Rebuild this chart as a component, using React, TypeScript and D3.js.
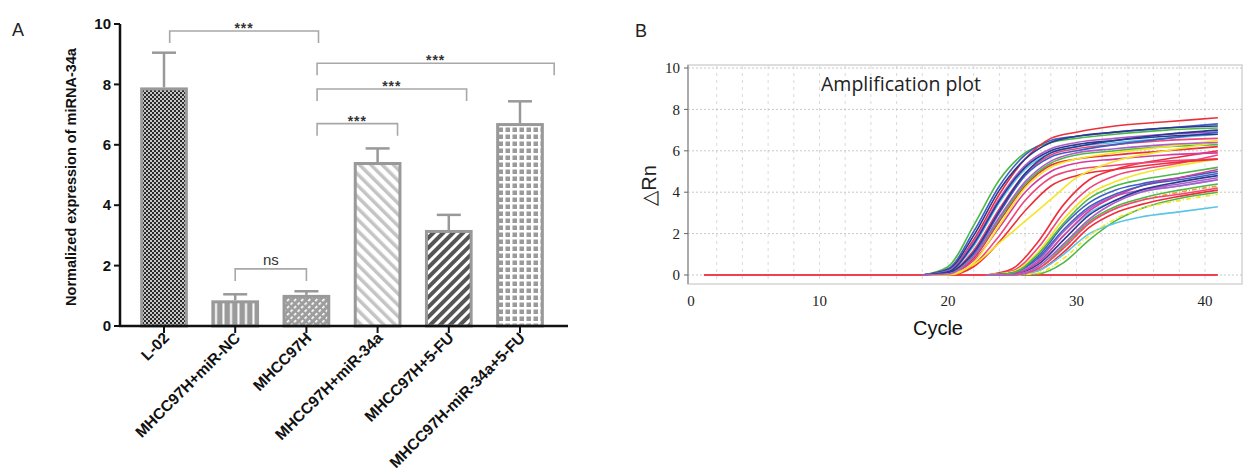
import * as d3 from "d3";

// ---- panel A data ----
const categories = [
  "L-02",
  "MHCC97H+miR-NC",
  "MHCC97H",
  "MHCC97H+miR-34a",
  "MHCC97H+5-FU",
  "MHCC97H-miR-34a+5-FU",
];
const means = [7.9, 0.85, 1.03, 5.43, 3.18, 6.72];
const errUp = [1.15, 0.2, 0.12, 0.45, 0.5, 0.72];
const yTicksA = [0, 2, 4, 6, 8, 10];
const patterns = ["checker", "vstripe", "hatch", "lightdiag", "darkdiag", "grid"];

// brackets: from/to category, height, label, shift of the ends (in steps)
const brackets = [
  { from: 0, to: 2, level: 9.77, label: "***", s0: 0.08, s1: 0.17 },
  { from: 2, to: 5, level: 8.7, label: "***", s0: 0.15, s1: 0.48 },
  { from: 2, to: 4, level: 7.85, label: "***", s0: 0.15, s1: 0.25 },
  { from: 2, to: 3, level: 6.7, label: "***", s0: 0.15, s1: 0.28 },
  { from: 1, to: 2, level: 1.89, label: "ns", s0: 0, s1: 0 },
];

// ---- panel B data ----
const xTicksB = [0, 10, 20, 30, 40];
const yTicksB = [0, 2, 4, 6, 8, 10];
const baseline = [[1, 0], [41, 0]];

const g1Cycles = [18, 20, 22, 24, 26, 28, 30, 33, 37, 41];
const g1Values = [
  [0, 0.4, 2.4, 4.6, 5.9, 6.4, 6.6, 6.8, 7.0, 7.1],
  [0, 0.3, 2.1, 4.3, 5.8, 6.5, 6.7, 6.9, 7.1, 7.3],
  [0, 0.2, 1.7, 3.9, 5.6, 6.6, 6.9, 7.2, 7.4, 7.6],
  [0, 0.25, 1.9, 4.1, 5.6, 6.4, 6.7, 6.9, 7.1, 7.2],
  [0, 0.2, 1.6, 3.7, 5.3, 6.1, 6.4, 6.6, 6.8, 6.9],
  [0, 0.15, 1.4, 3.5, 5.1, 5.9, 6.2, 6.4, 6.6, 6.8],
  [0, 0.1, 1.2, 3.2, 4.9, 5.8, 6.1, 6.3, 6.5, 6.6],
  [0, 0.1, 1.0, 3.0, 4.8, 5.7, 6.0, 6.3, 6.6, 6.9],
  [0, 0.05, 0.8, 2.6, 4.3, 5.3, 5.6, 5.8, 6.0, 6.2],
  [0, 0.05, 0.7, 2.3, 4.0, 5.0, 5.4, 5.6, 5.8, 5.9],
  [0, 0.1, 0.9, 2.7, 4.4, 5.4, 5.8, 6.0, 6.2, 6.3],
  [0, 0, 0.5, 1.9, 3.6, 4.7, 5.1, 5.3, 5.5, 5.6],
  [0, 0, 0.4, 1.6, 3.1, 4.3, 4.8, 5.1, 5.4, 5.6],
  [0, 0.1, 1.1, 3.1, 4.9, 5.9, 6.2, 6.5, 6.8, 7.0],
  [0, 0.05, 0.5, 1.55, 2.6, 3.65, 4.7, 5.5, 6.0, 6.4],
  [0, 0, 0.6, 2.4, 4.2, 5.2, 5.6, 5.9, 6.2, 6.5],
  [0, 0.15, 1.5, 3.6, 5.2, 6.0, 6.3, 6.5, 6.7, 6.8],
  [0, 0.05, 0.9, 2.8, 4.5, 5.5, 5.9, 6.1, 6.3, 6.4],
];
const g1Colors = [
  "#4db848", "#3f5fc0", "#ee2f3b", "#2b3990", "#b05cc8", "#5bc5e6",
  "#f0457a", "#3f5fc0", "#ee2f3b", "#d63c9e", "#4db848", "#f0457a",
  "#ee2f3b", "#2b3990", "#f4e526", "#f4e526", "#2b3990", "#b05cc8",
];

const g2Cycles = [23, 25, 27, 29, 31, 33, 35, 38, 41];
const g2Values = [
  [0, 0.3, 1.6, 3.4, 4.6, 5.1, 5.4, 5.7, 6.0],
  [0, 0.2, 1.3, 3.0, 4.2, 4.8, 5.1, 5.4, 5.8],
  [0, 0.15, 1.1, 2.7, 3.9, 4.5, 4.9, 5.3, 5.6],
  [0, 0.1, 0.9, 2.4, 3.5, 4.1, 4.4, 4.7, 5.0],
  [0, 0.05, 0.7, 2.1, 3.2, 3.8, 4.1, 4.4, 4.7],
  [0, 0.05, 0.6, 1.9, 3.0, 3.6, 4.0, 4.3, 4.6],
  [0, 0, 0.3, 1.4, 2.6, 3.3, 3.7, 4.1, 4.4],
  [0, 0.05, 0.5, 1.7, 2.9, 3.6, 4.1, 4.5, 4.8],
  [0, 0, 0.3, 1.3, 2.5, 3.2, 3.6, 4.0, 4.3],
  [0, 0, 0.2, 1.1, 2.3, 3.0, 3.4, 3.8, 4.1],
  [0, 0, 0.05, 0.6, 1.7, 2.6, 3.2, 3.7, 4.0],
  [0, 0, 0.2, 1.0, 2.0, 2.5, 2.8, 3.05, 3.3],
  [0, 0, 0.1, 0.8, 1.9, 2.7, 3.2, 3.6, 3.9],
  [0, 0.05, 0.6, 1.9, 3.1, 3.8, 4.3, 4.7, 5.1],
  [0, 0.1, 0.8, 2.2, 3.3, 3.9, 4.3, 4.6, 4.9],
  [0, 0, 0.3, 1.3, 2.5, 3.2, 3.6, 3.9, 4.2],
  [0, 0.1, 1.0, 2.5, 3.7, 4.3, 4.6, 4.9, 5.2],
  [0, 0, 0.4, 1.5, 2.7, 3.5, 4.0, 4.3, 4.6],
];
const g2Colors = [
  "#ee2f3b", "#f0457a", "#f4e526", "#3f5fc0", "#b05cc8", "#5bc5e6",
  "#4db848", "#2b3990", "#f39a2b", "#ee2f3b", "#4db848", "#5bc5e6",
  "#f4e526", "#d63c9e", "#3f5fc0", "#f0457a", "#4db848", "#b05cc8",
];
const g2Dashed = [8, 12];

export default function App() {
  const W = 1244, H = 470;

  // panel A scales
  const xA = d3.scaleBand().domain(categories).range([128.4, 555.6]).paddingInner(0.33).paddingOuter(0.165);
  const yA = d3.scaleLinear().domain([0, 10]).range([326, 24]);
  const step = xA.step();
  const cx = (i: number) => (xA(categories[i]) as number) + xA.bandwidth() / 2;

  // panel B scales
  const xB = d3.scaleLinear().domain([0, 40]).range([691, 1205]);
  const yB = d3.scaleLinear().domain([0, 10]).range([275, 68]);
  const line = d3.line<number[]>().x(d => xB(d[0])).y(d => yB(d[1])).curve(d3.curveMonotoneX);
  const gridX = d3.range(2, 41, 2);
  const gridY = d3.range(0, 11, 2);

  const bold = "'Liberation Sans', Arial, sans-serif";
  const serif = "'Liberation Serif', 'Times New Roman', serif";

  return (
    <svg width={W} height={H} style={{ position: "absolute", left: 0, top: 0, background: "#fff" }}>
      <defs>
        <pattern id="checker" width="4" height="4" patternUnits="userSpaceOnUse">
          <rect width="4" height="4" fill="#c8c8c8" />
          <rect width="2" height="2" fill="#2a2a2a" />
          <rect x="2" y="2" width="2" height="2" fill="#2a2a2a" />
        </pattern>
        <pattern id="vstripe" width="7.5" height="8" patternUnits="userSpaceOnUse">
          <rect width="7.5" height="8" fill="#9a9a9a" />
          <rect x="5" width="2" height="8" fill="#fff" />
        </pattern>
        <pattern id="hatch" width="5" height="5" patternUnits="userSpaceOnUse" patternTransform="rotate(-45)">
          <rect width="5" height="5" fill="#9d9d9d" />
          <rect y="0" width="3" height="1.6" fill="#fff" />
        </pattern>
        <pattern id="lightdiag" width="8" height="8" patternUnits="userSpaceOnUse" patternTransform="rotate(-45)">
          <rect width="8" height="8" fill="#fff" />
          <rect width="3.5" height="8" fill="#c4c4c4" />
        </pattern>
        <pattern id="darkdiag" width="7" height="7" patternUnits="userSpaceOnUse" patternTransform="rotate(45)">
          <rect width="7" height="7" fill="#fff" />
          <rect width="4" height="7" fill="#555" />
        </pattern>
        <pattern id="grid" width="7" height="7" patternUnits="userSpaceOnUse">
          <rect width="7" height="7" fill="#fff" />
          <rect x="1.5" y="1.5" width="4.5" height="4.5" fill="#9a9a9a" />
        </pattern>
      </defs>

      {/* ===== Panel A ===== */}
      <text x={12} y={36} fontFamily={bold} fontSize={18} fill="#222">A</text>

      {/* bars */}
      {means.map((m, i) => (
        <g key={i}>
          <line x1={cx(i)} x2={cx(i)} y1={yA(m)} y2={yA(m + errUp[i])} stroke="#999" strokeWidth={2.5} />
          <line x1={cx(i) - 12} x2={cx(i) + 12} y1={yA(m + errUp[i])} y2={yA(m + errUp[i])} stroke="#999" strokeWidth={2.5} />
          <rect
            x={(xA(categories[i]) as number) + 1.5}
            y={yA(m) + 1.5}
            width={xA.bandwidth() - 3}
            height={yA(0) - yA(m) - 1.5}
            fill={`url(#${patterns[i]})`}
            stroke="#999"
            strokeWidth={3}
          />
        </g>
      ))}

      {/* significance brackets */}
      {brackets.map((b, i) => {
        const x0 = cx(b.from) + b.s0 * step;
        const x1 = cx(b.to) + b.s1 * step;
        const y = yA(b.level);
        const ns = b.label === "ns";
        return (
          <g key={i}>
            <path d={`M${x0},${y + 12}V${y}H${x1}V${y + 12}`} fill="none" stroke="#a8a8a8" strokeWidth={1.6} />
            <text
              x={(x0 + x1) / 2}
              y={ns ? y - 4 : y + 2}
              textAnchor="middle"
              fontFamily={bold}
              fontSize={ns ? 15 : 14}
              fontWeight={ns ? "normal" : "bold"}
              letterSpacing={ns ? 0 : 1}
              fill="#333"
            >
              {b.label}
            </text>
          </g>
        );
      })}

      {/* y axis */}
      <line x1={120} x2={120} y1={yA(10)} y2={yA(0) + 1} stroke="#111" strokeWidth={2.5} />
      {yTicksA.map(t => (
        <g key={t}>
          <line x1={114} x2={120} y1={yA(t)} y2={yA(t)} stroke="#111" strokeWidth={2} />
          <text x={111} y={yA(t)} dy="0.35em" textAnchor="end" fontFamily={bold} fontWeight="bold" fontSize={15} fill="#111">{t}</text>
        </g>
      ))}
      <text
        transform={`translate(76,${(yA(0) + yA(10)) / 2 + 2}) rotate(-90)`}
        textAnchor="middle"
        fontFamily={bold}
        fontWeight="bold"
        fontSize={14.5}
        fill="#111"
      >
        Normalized expression of miRNA-34a
      </text>

      {/* x axis */}
      <line x1={119} x2={568} y1={yA(0)} y2={yA(0)} stroke="#111" strokeWidth={2.5} />
      {categories.map((c, i) => (
        <g key={c}>
          <line x1={cx(i)} x2={cx(i)} y1={yA(0)} y2={yA(0) + 7} stroke="#111" strokeWidth={2} />
          <text
            transform={`translate(${cx(i) + 6},${yA(0) + 13}) rotate(-45)`}
            textAnchor="end"
            fontFamily={bold}
            fontWeight="bold"
            fontSize={15.5}
            fill="#111"
          >
            {c}
          </text>
        </g>
      ))}

      {/* ===== Panel B ===== */}
      <text x={635} y={37} fontFamily={bold} fontSize={18} fill="#222">B</text>

      <rect x={688} y={65} width={554} height={219} fill="none" stroke="#d4d4d4" strokeWidth={1.5} />
      {gridX.map(c => (
        <line key={c} x1={xB(c)} x2={xB(c)} y1={66} y2={283} stroke="#dadada" strokeWidth={1} strokeDasharray="3,4" />
      ))}
      {gridY.map(v => (
        <line key={v} x1={688} x2={1242} y1={yB(v)} y2={yB(v)} stroke="#c8c8c8" strokeWidth={1} strokeDasharray="2,2" />
      ))}
      <line x1={688} x2={688} y1={65} y2={284} stroke="#9a9a9a" strokeWidth={1.5} />

      {yTicksB.map(t => (
        <g key={t}>
          <line x1={684} x2={688} y1={yB(t)} y2={yB(t)} stroke="#666" strokeWidth={1} />
          <text x={680} y={yB(t)} dy="0.35em" textAnchor="end" fontFamily={serif} fontSize={15} fill="#222">{t}</text>
        </g>
      ))}
      {xTicksB.map(t => (
        <text key={t} x={xB(t)} y={306} textAnchor="middle" fontFamily={serif} fontSize={15} fill="#222">{t}</text>
      ))}

      <text x={xB(20) - 10} y={335} textAnchor="middle" fontFamily={bold} fontSize={20} fill="#111">Cycle</text>
      <text
        transform={`translate(656,${(yB(0) + yB(10)) / 2 + 14}) rotate(-90)`}
        textAnchor="middle"
        fontFamily={bold}
        fontSize={20}
        fill="#222"
      >
        △Rn
      </text>
      <text x={821} y={91} fontFamily="'Open Sans', sans-serif" fontSize={19.5} fill="#222">Amplification plot</text>

      {/* red baseline then curves */}
      <path d={line(baseline) || ""} fill="none" stroke="#f04050" strokeWidth={1.8} />
      {g2Values.map((vals, i) => (
        <path
          key={"g2" + i}
          d={line(vals.map((v, j) => [g2Cycles[j], v])) || ""}
          fill="none"
          stroke={g2Colors[i]}
          strokeWidth={1.6}
          strokeDasharray={g2Dashed.includes(i) ? "5,2,1,2" : undefined}
        />
      ))}
      {g1Values.map((vals, i) => (
        <path
          key={"g1" + i}
          d={line(vals.map((v, j) => [g1Cycles[j], v])) || ""}
          fill="none"
          stroke={g1Colors[i]}
          strokeWidth={1.6}
        />
      ))}
    </svg>
  );
}
